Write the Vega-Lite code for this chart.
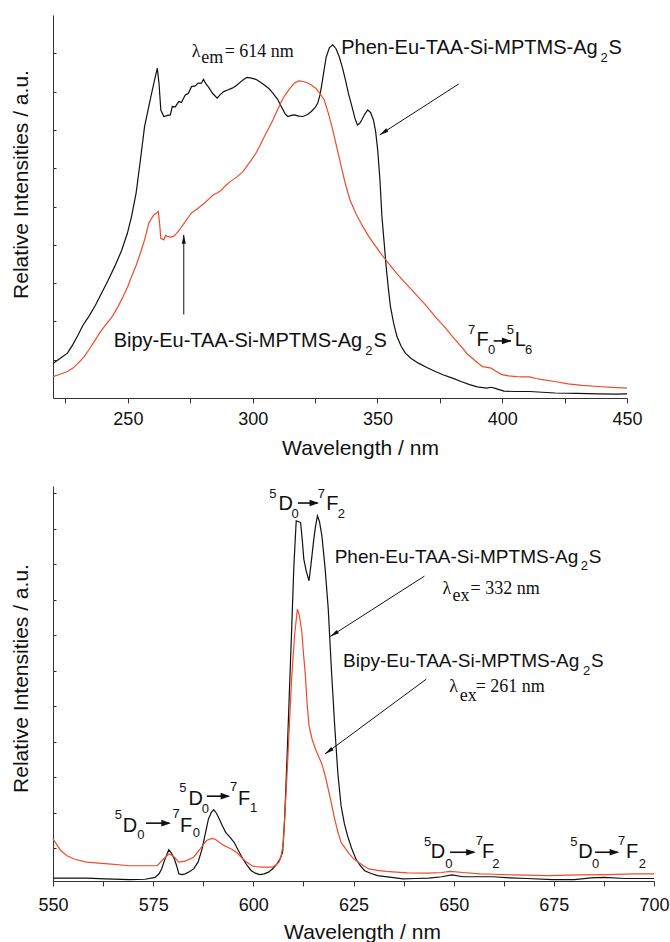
{
  "$schema": "https://vega.github.io/schema/vega-lite/v6.json",
  "background": "white",
  "padding": {"left": 10, "top": 15, "right": 2, "bottom": 0},
  "config": {
    "view": {"stroke": null},
    "font": "Liberation Sans",
    "axis": {
      "grid": false, "domainColor": "#333", "tickColor": "#333", "domainWidth": 1, "tickWidth": 1,
      "labelFont": "Liberation Sans", "labelFontSize": 18, "labelColor": "#111",
      "labelFlush": false, "labelOverlap": false,
      "titleFont": "Liberation Sans", "titleFontSize": 21, "titleFontWeight": "normal", "titleColor": "#111"
    },
    "concat": {"spacing": 28}
  },
  "datasets": {
    "excitation": [
      {"sample": "Phen", "wavelength": 220, "intensity": 0.90}, {"sample": "Phen", "wavelength": 222.5, "intensity": 1.02},
      {"sample": "Phen", "wavelength": 225.8, "intensity": 1.17}, {"sample": "Phen", "wavelength": 228, "intensity": 1.40},
      {"sample": "Phen", "wavelength": 230.1, "intensity": 1.65}, {"sample": "Phen", "wavelength": 232, "intensity": 1.90},
      {"sample": "Phen", "wavelength": 234.4, "intensity": 2.13}, {"sample": "Phen", "wavelength": 237, "intensity": 2.42},
      {"sample": "Phen", "wavelength": 239.5, "intensity": 2.74}, {"sample": "Phen", "wavelength": 242, "intensity": 3.06},
      {"sample": "Phen", "wavelength": 244.7, "intensity": 3.43}, {"sample": "Phen", "wavelength": 247.5, "intensity": 3.85},
      {"sample": "Phen", "wavelength": 249.8, "intensity": 4.30}, {"sample": "Phen", "wavelength": 251.5, "intensity": 4.75},
      {"sample": "Phen", "wavelength": 253.3, "intensity": 5.35}, {"sample": "Phen", "wavelength": 255, "intensity": 6.20},
      {"sample": "Phen", "wavelength": 256.7, "intensity": 7.09}, {"sample": "Phen", "wavelength": 258.5, "intensity": 7.65},
      {"sample": "Phen", "wavelength": 260.1, "intensity": 8.13}, {"sample": "Phen", "wavelength": 261.8, "intensity": 8.61},
      {"sample": "Phen", "wavelength": 262.5, "intensity": 8.20}, {"sample": "Phen", "wavelength": 263.2, "intensity": 7.52},
      {"sample": "Phen", "wavelength": 264.4, "intensity": 7.35}, {"sample": "Phen", "wavelength": 266, "intensity": 7.38},
      {"sample": "Phen", "wavelength": 267, "intensity": 7.39}, {"sample": "Phen", "wavelength": 267.8, "intensity": 7.61},
      {"sample": "Phen", "wavelength": 269, "intensity": 7.60}, {"sample": "Phen", "wavelength": 270.4, "intensity": 7.74},
      {"sample": "Phen", "wavelength": 271.5, "intensity": 7.72}, {"sample": "Phen", "wavelength": 273, "intensity": 7.91},
      {"sample": "Phen", "wavelength": 274.2, "intensity": 7.95}, {"sample": "Phen", "wavelength": 275.5, "intensity": 8.13},
      {"sample": "Phen", "wavelength": 277, "intensity": 8.15}, {"sample": "Phen", "wavelength": 278.1, "intensity": 8.22},
      {"sample": "Phen", "wavelength": 279.5, "intensity": 8.22}, {"sample": "Phen", "wavelength": 280.3, "intensity": 8.32},
      {"sample": "Phen", "wavelength": 281.3, "intensity": 8.20}, {"sample": "Phen", "wavelength": 282.4, "intensity": 8.11},
      {"sample": "Phen", "wavelength": 284, "intensity": 7.95}, {"sample": "Phen", "wavelength": 285.8, "intensity": 7.83},
      {"sample": "Phen", "wavelength": 287, "intensity": 7.92}, {"sample": "Phen", "wavelength": 288.4, "intensity": 8.00},
      {"sample": "Phen", "wavelength": 290, "intensity": 8.04}, {"sample": "Phen", "wavelength": 291.8, "intensity": 8.09},
      {"sample": "Phen", "wavelength": 293.5, "intensity": 8.16}, {"sample": "Phen", "wavelength": 295.3, "intensity": 8.26},
      {"sample": "Phen", "wavelength": 296.5, "intensity": 8.32}, {"sample": "Phen", "wavelength": 297.8, "intensity": 8.37},
      {"sample": "Phen", "wavelength": 299.5, "intensity": 8.35}, {"sample": "Phen", "wavelength": 301.3, "intensity": 8.32},
      {"sample": "Phen", "wavelength": 303, "intensity": 8.25}, {"sample": "Phen", "wavelength": 304.7, "intensity": 8.17},
      {"sample": "Phen", "wavelength": 306.5, "intensity": 8.08}, {"sample": "Phen", "wavelength": 308.1, "intensity": 7.96},
      {"sample": "Phen", "wavelength": 310, "intensity": 7.80}, {"sample": "Phen", "wavelength": 311.5, "intensity": 7.61},
      {"sample": "Phen", "wavelength": 313, "intensity": 7.42}, {"sample": "Phen", "wavelength": 314.1, "intensity": 7.35},
      {"sample": "Phen", "wavelength": 315.5, "intensity": 7.38}, {"sample": "Phen", "wavelength": 316.7, "intensity": 7.39},
      {"sample": "Phen", "wavelength": 318.5, "intensity": 7.36}, {"sample": "Phen", "wavelength": 320.1, "intensity": 7.35},
      {"sample": "Phen", "wavelength": 322, "intensity": 7.40}, {"sample": "Phen", "wavelength": 323.5, "intensity": 7.48},
      {"sample": "Phen", "wavelength": 325, "intensity": 7.58}, {"sample": "Phen", "wavelength": 326.1, "intensity": 7.70},
      {"sample": "Phen", "wavelength": 327, "intensity": 7.92}, {"sample": "Phen", "wavelength": 327.8, "intensity": 8.22},
      {"sample": "Phen", "wavelength": 328.7, "intensity": 8.60}, {"sample": "Phen", "wavelength": 329.5, "intensity": 8.91},
      {"sample": "Phen", "wavelength": 330.8, "intensity": 9.15}, {"sample": "Phen", "wavelength": 332.1, "intensity": 9.22},
      {"sample": "Phen", "wavelength": 333.4, "intensity": 9.12}, {"sample": "Phen", "wavelength": 334.7, "intensity": 8.91},
      {"sample": "Phen", "wavelength": 336, "intensity": 8.62}, {"sample": "Phen", "wavelength": 337.2, "intensity": 8.30},
      {"sample": "Phen", "wavelength": 338.5, "intensity": 7.92}, {"sample": "Phen", "wavelength": 339.8, "intensity": 7.61},
      {"sample": "Phen", "wavelength": 341, "intensity": 7.30}, {"sample": "Phen", "wavelength": 342, "intensity": 7.13},
      {"sample": "Phen", "wavelength": 343, "intensity": 7.18}, {"sample": "Phen", "wavelength": 343.7, "intensity": 7.26},
      {"sample": "Phen", "wavelength": 345, "intensity": 7.42}, {"sample": "Phen", "wavelength": 346.1, "intensity": 7.52},
      {"sample": "Phen", "wavelength": 347.3, "intensity": 7.45}, {"sample": "Phen", "wavelength": 348.4, "intensity": 7.26},
      {"sample": "Phen", "wavelength": 349.3, "intensity": 6.95}, {"sample": "Phen", "wavelength": 350.1, "intensity": 6.48},
      {"sample": "Phen", "wavelength": 351, "intensity": 5.70}, {"sample": "Phen", "wavelength": 351.8, "intensity": 4.74},
      {"sample": "Phen", "wavelength": 352.7, "intensity": 4.05}, {"sample": "Phen", "wavelength": 353.5, "intensity": 3.43},
      {"sample": "Phen", "wavelength": 354.4, "intensity": 2.85}, {"sample": "Phen", "wavelength": 355.2, "intensity": 2.39},
      {"sample": "Phen", "wavelength": 356.5, "intensity": 1.95}, {"sample": "Phen", "wavelength": 357.8, "intensity": 1.61},
      {"sample": "Phen", "wavelength": 359.5, "intensity": 1.35}, {"sample": "Phen", "wavelength": 361.2, "intensity": 1.17},
      {"sample": "Phen", "wavelength": 363.5, "intensity": 1.03}, {"sample": "Phen", "wavelength": 366.4, "intensity": 0.91},
      {"sample": "Phen", "wavelength": 370, "intensity": 0.79}, {"sample": "Phen", "wavelength": 373.2, "intensity": 0.69},
      {"sample": "Phen", "wavelength": 376.5, "intensity": 0.60}, {"sample": "Phen", "wavelength": 380.1, "intensity": 0.52},
      {"sample": "Phen", "wavelength": 383.5, "intensity": 0.43}, {"sample": "Phen", "wavelength": 386.9, "intensity": 0.35},
      {"sample": "Phen", "wavelength": 390, "intensity": 0.29}, {"sample": "Phen", "wavelength": 393.8, "intensity": 0.26},
      {"sample": "Phen", "wavelength": 395.5, "intensity": 0.28}, {"sample": "Phen", "wavelength": 397.2, "intensity": 0.25},
      {"sample": "Phen", "wavelength": 400.7, "intensity": 0.18}, {"sample": "Phen", "wavelength": 405, "intensity": 0.17},
      {"sample": "Phen", "wavelength": 411, "intensity": 0.17}, {"sample": "Phen", "wavelength": 416, "intensity": 0.15},
      {"sample": "Phen", "wavelength": 421.2, "intensity": 0.13}, {"sample": "Phen", "wavelength": 430, "intensity": 0.12},
      {"sample": "Phen", "wavelength": 438.4, "intensity": 0.11}, {"sample": "Phen", "wavelength": 445, "intensity": 0.10},
      {"sample": "Phen", "wavelength": 450, "intensity": 0.11},
      {"sample": "Bipy", "wavelength": 220, "intensity": 0.56}, {"sample": "Bipy", "wavelength": 222, "intensity": 0.60},
      {"sample": "Bipy", "wavelength": 225.8, "intensity": 0.69}, {"sample": "Bipy", "wavelength": 228, "intensity": 0.78},
      {"sample": "Bipy", "wavelength": 230.1, "intensity": 0.91}, {"sample": "Bipy", "wavelength": 232.3, "intensity": 1.06},
      {"sample": "Bipy", "wavelength": 234.4, "intensity": 1.26}, {"sample": "Bipy", "wavelength": 236.5, "intensity": 1.47},
      {"sample": "Bipy", "wavelength": 238.7, "intensity": 1.70}, {"sample": "Bipy", "wavelength": 241, "intensity": 1.90},
      {"sample": "Bipy", "wavelength": 243.8, "intensity": 2.13}, {"sample": "Bipy", "wavelength": 246, "intensity": 2.38},
      {"sample": "Bipy", "wavelength": 248.1, "intensity": 2.65}, {"sample": "Bipy", "wavelength": 250, "intensity": 2.92},
      {"sample": "Bipy", "wavelength": 251.5, "intensity": 3.17}, {"sample": "Bipy", "wavelength": 253.3, "intensity": 3.46},
      {"sample": "Bipy", "wavelength": 255, "intensity": 3.78}, {"sample": "Bipy", "wavelength": 256.8, "intensity": 4.15},
      {"sample": "Bipy", "wavelength": 258.4, "intensity": 4.57}, {"sample": "Bipy", "wavelength": 260.4, "intensity": 4.78},
      {"sample": "Bipy", "wavelength": 261.5, "intensity": 4.83}, {"sample": "Bipy", "wavelength": 262.2, "intensity": 4.87},
      {"sample": "Bipy", "wavelength": 262.8, "intensity": 4.50}, {"sample": "Bipy", "wavelength": 263.2, "intensity": 4.17},
      {"sample": "Bipy", "wavelength": 264.4, "intensity": 4.13}, {"sample": "Bipy", "wavelength": 265.2, "intensity": 4.25},
      {"sample": "Bipy", "wavelength": 265.8, "intensity": 4.22}, {"sample": "Bipy", "wavelength": 267, "intensity": 4.20},
      {"sample": "Bipy", "wavelength": 268.3, "intensity": 4.22}, {"sample": "Bipy", "wavelength": 269.5, "intensity": 4.30},
      {"sample": "Bipy", "wavelength": 270.8, "intensity": 4.40}, {"sample": "Bipy", "wavelength": 272.1, "intensity": 4.52},
      {"sample": "Bipy", "wavelength": 273.8, "intensity": 4.68}, {"sample": "Bipy", "wavelength": 275.5, "intensity": 4.83},
      {"sample": "Bipy", "wavelength": 278, "intensity": 4.95}, {"sample": "Bipy", "wavelength": 280.7, "intensity": 5.09},
      {"sample": "Bipy", "wavelength": 282.5, "intensity": 5.20}, {"sample": "Bipy", "wavelength": 284.1, "intensity": 5.30},
      {"sample": "Bipy", "wavelength": 286, "intensity": 5.36}, {"sample": "Bipy", "wavelength": 287.5, "intensity": 5.43},
      {"sample": "Bipy", "wavelength": 289.2, "intensity": 5.55}, {"sample": "Bipy", "wavelength": 291, "intensity": 5.65},
      {"sample": "Bipy", "wavelength": 293.5, "intensity": 5.76}, {"sample": "Bipy", "wavelength": 296.1, "intensity": 5.91},
      {"sample": "Bipy", "wavelength": 298.8, "intensity": 6.15}, {"sample": "Bipy", "wavelength": 301.3, "intensity": 6.39},
      {"sample": "Bipy", "wavelength": 303, "intensity": 6.60}, {"sample": "Bipy", "wavelength": 304.7, "intensity": 6.83},
      {"sample": "Bipy", "wavelength": 306.5, "intensity": 7.05}, {"sample": "Bipy", "wavelength": 308.1, "intensity": 7.26},
      {"sample": "Bipy", "wavelength": 309.8, "intensity": 7.50}, {"sample": "Bipy", "wavelength": 311.5, "intensity": 7.74},
      {"sample": "Bipy", "wavelength": 313.2, "intensity": 7.93}, {"sample": "Bipy", "wavelength": 315, "intensity": 8.09},
      {"sample": "Bipy", "wavelength": 316.7, "intensity": 8.22}, {"sample": "Bipy", "wavelength": 318.4, "intensity": 8.28},
      {"sample": "Bipy", "wavelength": 320, "intensity": 8.27}, {"sample": "Bipy", "wavelength": 321.8, "intensity": 8.23},
      {"sample": "Bipy", "wavelength": 323.5, "intensity": 8.17}, {"sample": "Bipy", "wavelength": 325.3, "intensity": 8.09},
      {"sample": "Bipy", "wavelength": 327, "intensity": 7.95}, {"sample": "Bipy", "wavelength": 328.7, "intensity": 7.78},
      {"sample": "Bipy", "wavelength": 330.4, "intensity": 7.42}, {"sample": "Bipy", "wavelength": 332.1, "intensity": 7.00},
      {"sample": "Bipy", "wavelength": 333.8, "intensity": 6.52}, {"sample": "Bipy", "wavelength": 335.5, "intensity": 6.04},
      {"sample": "Bipy", "wavelength": 337.2, "intensity": 5.58}, {"sample": "Bipy", "wavelength": 339, "intensity": 5.17},
      {"sample": "Bipy", "wavelength": 341.5, "intensity": 4.80}, {"sample": "Bipy", "wavelength": 344.1, "intensity": 4.48},
      {"sample": "Bipy", "wavelength": 346.7, "intensity": 4.20}, {"sample": "Bipy", "wavelength": 349.3, "intensity": 3.96},
      {"sample": "Bipy", "wavelength": 352, "intensity": 3.72}, {"sample": "Bipy", "wavelength": 354.4, "intensity": 3.52},
      {"sample": "Bipy", "wavelength": 357.8, "intensity": 3.25}, {"sample": "Bipy", "wavelength": 361.2, "intensity": 3.00},
      {"sample": "Bipy", "wavelength": 365.5, "intensity": 2.70}, {"sample": "Bipy", "wavelength": 369.8, "intensity": 2.39},
      {"sample": "Bipy", "wavelength": 373.2, "intensity": 2.12}, {"sample": "Bipy", "wavelength": 376.7, "intensity": 1.87},
      {"sample": "Bipy", "wavelength": 380.1, "intensity": 1.60}, {"sample": "Bipy", "wavelength": 383.5, "intensity": 1.35},
      {"sample": "Bipy", "wavelength": 386, "intensity": 1.15}, {"sample": "Bipy", "wavelength": 388.7, "intensity": 1.00},
      {"sample": "Bipy", "wavelength": 390.5, "intensity": 0.90}, {"sample": "Bipy", "wavelength": 392.1, "intensity": 0.82},
      {"sample": "Bipy", "wavelength": 394, "intensity": 0.80}, {"sample": "Bipy", "wavelength": 395.5, "intensity": 0.78},
      {"sample": "Bipy", "wavelength": 397.5, "intensity": 0.70}, {"sample": "Bipy", "wavelength": 399.8, "intensity": 0.61},
      {"sample": "Bipy", "wavelength": 402.5, "intensity": 0.58}, {"sample": "Bipy", "wavelength": 405.8, "intensity": 0.56},
      {"sample": "Bipy", "wavelength": 408.5, "intensity": 0.55}, {"sample": "Bipy", "wavelength": 411, "intensity": 0.55},
      {"sample": "Bipy", "wavelength": 413.5, "intensity": 0.51}, {"sample": "Bipy", "wavelength": 416.1, "intensity": 0.48},
      {"sample": "Bipy", "wavelength": 421, "intensity": 0.43}, {"sample": "Bipy", "wavelength": 426.4, "intensity": 0.37},
      {"sample": "Bipy", "wavelength": 432, "intensity": 0.33}, {"sample": "Bipy", "wavelength": 438.4, "intensity": 0.30},
      {"sample": "Bipy", "wavelength": 444, "intensity": 0.28}, {"sample": "Bipy", "wavelength": 450, "intensity": 0.26}
    ],
    "emission": [
      {"sample": "Phen", "wavelength": 550, "intensity": 0.15}, {"sample": "Phen", "wavelength": 555, "intensity": 0.15},
      {"sample": "Phen", "wavelength": 558.4, "intensity": 0.15}, {"sample": "Phen", "wavelength": 563, "intensity": 0.13},
      {"sample": "Phen", "wavelength": 569.1, "intensity": 0.11}, {"sample": "Phen", "wavelength": 573, "intensity": 0.12},
      {"sample": "Phen", "wavelength": 575.5, "intensity": 0.17}, {"sample": "Phen", "wavelength": 576.5, "intensity": 0.28},
      {"sample": "Phen", "wavelength": 577.1, "intensity": 0.41}, {"sample": "Phen", "wavelength": 578, "intensity": 0.70},
      {"sample": "Phen", "wavelength": 578.9, "intensity": 0.95}, {"sample": "Phen", "wavelength": 579.6, "intensity": 0.85},
      {"sample": "Phen", "wavelength": 580.3, "intensity": 0.69}, {"sample": "Phen", "wavelength": 581, "intensity": 0.45},
      {"sample": "Phen", "wavelength": 581.4, "intensity": 0.27}, {"sample": "Phen", "wavelength": 582.2, "intensity": 0.25},
      {"sample": "Phen", "wavelength": 583, "intensity": 0.27}, {"sample": "Phen", "wavelength": 584, "intensity": 0.33},
      {"sample": "Phen", "wavelength": 585.1, "intensity": 0.41}, {"sample": "Phen", "wavelength": 586.2, "intensity": 0.60},
      {"sample": "Phen", "wavelength": 587.2, "intensity": 0.97}, {"sample": "Phen", "wavelength": 588, "intensity": 1.40},
      {"sample": "Phen", "wavelength": 588.8, "intensity": 1.82}, {"sample": "Phen", "wavelength": 589.5, "intensity": 2.00},
      {"sample": "Phen", "wavelength": 590.1, "intensity": 2.08}, {"sample": "Phen", "wavelength": 590.8, "intensity": 1.98},
      {"sample": "Phen", "wavelength": 591.5, "intensity": 1.82}, {"sample": "Phen", "wavelength": 592.3, "intensity": 1.62},
      {"sample": "Phen", "wavelength": 593.1, "intensity": 1.44}, {"sample": "Phen", "wavelength": 594.2, "intensity": 1.30},
      {"sample": "Phen", "wavelength": 595.2, "intensity": 1.16}, {"sample": "Phen", "wavelength": 596.3, "intensity": 0.92},
      {"sample": "Phen", "wavelength": 597.4, "intensity": 0.69}, {"sample": "Phen", "wavelength": 598.5, "intensity": 0.50},
      {"sample": "Phen", "wavelength": 599.5, "intensity": 0.36}, {"sample": "Phen", "wavelength": 600.5, "intensity": 0.29},
      {"sample": "Phen", "wavelength": 601.6, "intensity": 0.25}, {"sample": "Phen", "wavelength": 602.7, "intensity": 0.27},
      {"sample": "Phen", "wavelength": 603.8, "intensity": 0.32}, {"sample": "Phen", "wavelength": 604.9, "intensity": 0.42},
      {"sample": "Phen", "wavelength": 605.9, "intensity": 0.55}, {"sample": "Phen", "wavelength": 606.7, "intensity": 0.70},
      {"sample": "Phen", "wavelength": 607.3, "intensity": 0.88}, {"sample": "Phen", "wavelength": 607.8, "intensity": 1.80},
      {"sample": "Phen", "wavelength": 608.4, "intensity": 3.51}, {"sample": "Phen", "wavelength": 609, "intensity": 5.40},
      {"sample": "Phen", "wavelength": 609.6, "intensity": 7.26}, {"sample": "Phen", "wavelength": 610.1, "intensity": 8.90},
      {"sample": "Phen", "wavelength": 610.7, "intensity": 10.22}, {"sample": "Phen", "wavelength": 611.2, "intensity": 10.20},
      {"sample": "Phen", "wavelength": 611.8, "intensity": 10.17}, {"sample": "Phen", "wavelength": 612.2, "intensity": 9.70},
      {"sample": "Phen", "wavelength": 612.6, "intensity": 9.14}, {"sample": "Phen", "wavelength": 613.2, "intensity": 8.80},
      {"sample": "Phen", "wavelength": 613.9, "intensity": 8.53}, {"sample": "Phen", "wavelength": 614.4, "intensity": 9.00},
      {"sample": "Phen", "wavelength": 615, "intensity": 9.61}, {"sample": "Phen", "wavelength": 615.5, "intensity": 10.05},
      {"sample": "Phen", "wavelength": 616, "intensity": 10.36}, {"sample": "Phen", "wavelength": 616.5, "intensity": 10.20},
      {"sample": "Phen", "wavelength": 617.1, "intensity": 9.80}, {"sample": "Phen", "wavelength": 617.9, "intensity": 8.90},
      {"sample": "Phen", "wavelength": 618.7, "intensity": 7.73}, {"sample": "Phen", "wavelength": 619.5, "intensity": 6.00},
      {"sample": "Phen", "wavelength": 620.3, "intensity": 4.45}, {"sample": "Phen", "wavelength": 621.1, "intensity": 3.10},
      {"sample": "Phen", "wavelength": 621.9, "intensity": 2.19}, {"sample": "Phen", "wavelength": 622.7, "intensity": 1.70},
      {"sample": "Phen", "wavelength": 623.5, "intensity": 1.35}, {"sample": "Phen", "wavelength": 624.5, "intensity": 1.00},
      {"sample": "Phen", "wavelength": 625.6, "intensity": 0.69}, {"sample": "Phen", "wavelength": 626.7, "intensity": 0.50},
      {"sample": "Phen", "wavelength": 627.8, "intensity": 0.36}, {"sample": "Phen", "wavelength": 629.4, "intensity": 0.28},
      {"sample": "Phen", "wavelength": 631, "intensity": 0.22}, {"sample": "Phen", "wavelength": 634, "intensity": 0.18},
      {"sample": "Phen", "wavelength": 637.4, "intensity": 0.13}, {"sample": "Phen", "wavelength": 640.5, "intensity": 0.14},
      {"sample": "Phen", "wavelength": 643.8, "intensity": 0.15}, {"sample": "Phen", "wavelength": 647, "intensity": 0.19},
      {"sample": "Phen", "wavelength": 649.6, "intensity": 0.24}, {"sample": "Phen", "wavelength": 652.3, "intensity": 0.19},
      {"sample": "Phen", "wavelength": 656, "intensity": 0.19}, {"sample": "Phen", "wavelength": 659.8, "intensity": 0.19},
      {"sample": "Phen", "wavelength": 664, "intensity": 0.16}, {"sample": "Phen", "wavelength": 668.3, "intensity": 0.14},
      {"sample": "Phen", "wavelength": 674.7, "intensity": 0.11}, {"sample": "Phen", "wavelength": 680.1, "intensity": 0.11},
      {"sample": "Phen", "wavelength": 684.3, "intensity": 0.16}, {"sample": "Phen", "wavelength": 687.5, "intensity": 0.17},
      {"sample": "Phen", "wavelength": 692.9, "intensity": 0.14}, {"sample": "Phen", "wavelength": 700, "intensity": 0.14},
      {"sample": "Bipy", "wavelength": 550, "intensity": 1.25}, {"sample": "Bipy", "wavelength": 552, "intensity": 0.92},
      {"sample": "Bipy", "wavelength": 553.5, "intensity": 0.78}, {"sample": "Bipy", "wavelength": 555.2, "intensity": 0.69},
      {"sample": "Bipy", "wavelength": 558.4, "intensity": 0.60}, {"sample": "Bipy", "wavelength": 563.8, "intensity": 0.55},
      {"sample": "Bipy", "wavelength": 569.1, "intensity": 0.50}, {"sample": "Bipy", "wavelength": 573, "intensity": 0.50},
      {"sample": "Bipy", "wavelength": 576, "intensity": 0.50}, {"sample": "Bipy", "wavelength": 577.6, "intensity": 0.69},
      {"sample": "Bipy", "wavelength": 578.9, "intensity": 0.83}, {"sample": "Bipy", "wavelength": 579.6, "intensity": 0.80},
      {"sample": "Bipy", "wavelength": 580.3, "intensity": 0.74}, {"sample": "Bipy", "wavelength": 581.4, "intensity": 0.60},
      {"sample": "Bipy", "wavelength": 583, "intensity": 0.63}, {"sample": "Bipy", "wavelength": 585.1, "intensity": 0.74},
      {"sample": "Bipy", "wavelength": 586.7, "intensity": 0.97}, {"sample": "Bipy", "wavelength": 588.3, "intensity": 1.21},
      {"sample": "Bipy", "wavelength": 589.7, "intensity": 1.27}, {"sample": "Bipy", "wavelength": 590.6, "intensity": 1.24},
      {"sample": "Bipy", "wavelength": 591.5, "intensity": 1.16}, {"sample": "Bipy", "wavelength": 592.5, "intensity": 1.08},
      {"sample": "Bipy", "wavelength": 593.6, "intensity": 1.02}, {"sample": "Bipy", "wavelength": 594.7, "intensity": 0.96},
      {"sample": "Bipy", "wavelength": 595.8, "intensity": 0.88}, {"sample": "Bipy", "wavelength": 596.8, "intensity": 0.76},
      {"sample": "Bipy", "wavelength": 597.9, "intensity": 0.64}, {"sample": "Bipy", "wavelength": 599, "intensity": 0.55},
      {"sample": "Bipy", "wavelength": 600, "intensity": 0.48}, {"sample": "Bipy", "wavelength": 602.2, "intensity": 0.46},
      {"sample": "Bipy", "wavelength": 604.8, "intensity": 0.46}, {"sample": "Bipy", "wavelength": 605.6, "intensity": 0.52},
      {"sample": "Bipy", "wavelength": 606.4, "intensity": 0.60}, {"sample": "Bipy", "wavelength": 607, "intensity": 0.80},
      {"sample": "Bipy", "wavelength": 607.5, "intensity": 1.16}, {"sample": "Bipy", "wavelength": 608, "intensity": 2.20},
      {"sample": "Bipy", "wavelength": 608.6, "intensity": 3.51}, {"sample": "Bipy", "wavelength": 609.1, "intensity": 4.70},
      {"sample": "Bipy", "wavelength": 609.6, "intensity": 5.85}, {"sample": "Bipy", "wavelength": 610.3, "intensity": 7.00},
      {"sample": "Bipy", "wavelength": 611, "intensity": 7.73}, {"sample": "Bipy", "wavelength": 611.5, "intensity": 7.55},
      {"sample": "Bipy", "wavelength": 612.1, "intensity": 7.08}, {"sample": "Bipy", "wavelength": 612.5, "intensity": 6.50},
      {"sample": "Bipy", "wavelength": 613, "intensity": 5.85}, {"sample": "Bipy", "wavelength": 613.4, "intensity": 5.10},
      {"sample": "Bipy", "wavelength": 613.9, "intensity": 4.45}, {"sample": "Bipy", "wavelength": 614.7, "intensity": 4.05},
      {"sample": "Bipy", "wavelength": 615.5, "intensity": 3.79}, {"sample": "Bipy", "wavelength": 616.3, "intensity": 3.58},
      {"sample": "Bipy", "wavelength": 617.1, "intensity": 3.37}, {"sample": "Bipy", "wavelength": 617.9, "intensity": 3.05},
      {"sample": "Bipy", "wavelength": 618.7, "intensity": 2.66}, {"sample": "Bipy", "wavelength": 619.5, "intensity": 2.25},
      {"sample": "Bipy", "wavelength": 620.3, "intensity": 1.82}, {"sample": "Bipy", "wavelength": 621.1, "intensity": 1.45},
      {"sample": "Bipy", "wavelength": 621.9, "intensity": 1.16}, {"sample": "Bipy", "wavelength": 623, "intensity": 0.98},
      {"sample": "Bipy", "wavelength": 624, "intensity": 0.83}, {"sample": "Bipy", "wavelength": 625, "intensity": 0.70},
      {"sample": "Bipy", "wavelength": 626.2, "intensity": 0.60}, {"sample": "Bipy", "wavelength": 627.5, "intensity": 0.50},
      {"sample": "Bipy", "wavelength": 628.8, "intensity": 0.41}, {"sample": "Bipy", "wavelength": 631, "intensity": 0.37},
      {"sample": "Bipy", "wavelength": 633.1, "intensity": 0.34}, {"sample": "Bipy", "wavelength": 638.4, "intensity": 0.30},
      {"sample": "Bipy", "wavelength": 643.8, "intensity": 0.29}, {"sample": "Bipy", "wavelength": 647, "intensity": 0.31},
      {"sample": "Bipy", "wavelength": 649.1, "intensity": 0.34}, {"sample": "Bipy", "wavelength": 652.3, "intensity": 0.31},
      {"sample": "Bipy", "wavelength": 656.6, "intensity": 0.27}, {"sample": "Bipy", "wavelength": 660, "intensity": 0.26},
      {"sample": "Bipy", "wavelength": 665.1, "intensity": 0.24}, {"sample": "Bipy", "wavelength": 673.7, "intensity": 0.22},
      {"sample": "Bipy", "wavelength": 681.1, "intensity": 0.24}, {"sample": "Bipy", "wavelength": 688.6, "intensity": 0.25},
      {"sample": "Bipy", "wavelength": 695, "intensity": 0.27}, {"sample": "Bipy", "wavelength": 700, "intensity": 0.27}
    ],
    "topText": [
      {"wavelength": 335.5, "intensity": 9.14, "t": "Phen-Eu-TAA-Si-MPTMS-Ag"}, {"wavelength": 442.6, "intensity": 9.14, "t": "S"},
      {"wavelength": 244.3, "intensity": 1.48, "t": "Bipy-Eu-TAA-Si-MPTMS-Ag"}, {"wavelength": 348.4, "intensity": 1.48, "t": "S"},
      {"wavelength": 389.7, "intensity": 1.52, "t": "F"}, {"wavelength": 405.0, "intensity": 1.52, "t": "L"}
    ],
    "topSmall": [
      {"wavelength": 440.8, "intensity": 8.88, "t": "2"}, {"wavelength": 346.6, "intensity": 1.22, "t": "2"},
      {"wavelength": 387.7, "intensity": 1.78, "t": "7"}, {"wavelength": 395.7, "intensity": 1.26, "t": "0"},
      {"wavelength": 403.3, "intensity": 1.78, "t": "5"}, {"wavelength": 410.6, "intensity": 1.26, "t": "6"}
    ],
    "topSerif": [
      {"wavelength": 275.6, "intensity": 9.04, "t": "λ"}, {"wavelength": 288.8, "intensity": 9.04, "t": "= 614 nm"}
    ],
    "topSerifSub": [
      {"wavelength": 279.4, "intensity": 8.87, "t": "em"}
    ],
    "topArrows": [
      {"wavelength": 382.6, "intensity": 8.20, "wavelength2": 350.9, "intensity2": 6.87},
      {"wavelength": 272.4, "intensity": 2.18, "wavelength2": 272.4, "intensity2": 4.26}
    ],
    "topLabelArrows": [
      {"wavelength": 396.6, "intensity": 1.49, "wavelength2": 403.5, "intensity2": 1.49}
    ],
    "topHeadDiag": [{"wavelength": 350.9, "intensity": 6.87}],
    "topHeadUp": [{"wavelength": 272.4, "intensity": 4.26}],
    "topHeadRight": [{"wavelength": 403.7, "intensity": 1.49}],
    "botText": [
      {"wavelength": 620.3, "intensity": 9.19, "t": "Phen-Eu-TAA-Si-MPTMS-Ag"}, {"wavelength": 683.7, "intensity": 9.19, "t": "S"},
      {"wavelength": 622.4, "intensity": 6.26, "t": "Bipy-Eu-TAA-Si-MPTMS-Ag"}, {"wavelength": 684.3, "intensity": 6.26, "t": "S"}
    ],
    "botLetters": [
      {"wavelength": 606.3, "intensity": 10.69, "t": "D"}, {"wavelength": 618.2, "intensity": 10.69, "t": "F"},
      {"wavelength": 583.8, "intensity": 2.38, "t": "D"}, {"wavelength": 596.2, "intensity": 2.38, "t": "F"},
      {"wavelength": 567.4, "intensity": 1.63, "t": "D"}, {"wavelength": 581.7, "intensity": 1.63, "t": "F"},
      {"wavelength": 644.3, "intensity": 0.88, "t": "D"}, {"wavelength": 657.1, "intensity": 0.88, "t": "F"},
      {"wavelength": 681.1, "intensity": 0.88, "t": "D"}, {"wavelength": 693.0, "intensity": 0.88, "t": "F"}
    ],
    "botSmall": [
      {"wavelength": 682.6, "intensity": 8.94, "t": "2"}, {"wavelength": 683.2, "intensity": 5.99, "t": "2"},
      {"wavelength": 604.9, "intensity": 10.97, "t": "5"}, {"wavelength": 610.4, "intensity": 10.41, "t": "0"},
      {"wavelength": 617.0, "intensity": 10.97, "t": "7"}, {"wavelength": 622.0, "intensity": 10.41, "t": "2"},
      {"wavelength": 582.4, "intensity": 2.68, "t": "5"}, {"wavelength": 588.0, "intensity": 2.10, "t": "0"},
      {"wavelength": 595.1, "intensity": 2.72, "t": "7"}, {"wavelength": 600.1, "intensity": 2.12, "t": "1"},
      {"wavelength": 566.3, "intensity": 1.93, "t": "5"}, {"wavelength": 571.9, "intensity": 1.37, "t": "0"},
      {"wavelength": 580.7, "intensity": 1.96, "t": "7"}, {"wavelength": 585.8, "intensity": 1.42, "t": "0"},
      {"wavelength": 643.5, "intensity": 1.16, "t": "5"}, {"wavelength": 648.8, "intensity": 0.56, "t": "0"},
      {"wavelength": 656.4, "intensity": 1.21, "t": "7"}, {"wavelength": 660.5, "intensity": 0.55, "t": "2"},
      {"wavelength": 680.0, "intensity": 1.16, "t": "5"}, {"wavelength": 685.4, "intensity": 0.56, "t": "0"},
      {"wavelength": 691.9, "intensity": 1.21, "t": "7"}, {"wavelength": 697.1, "intensity": 0.55, "t": "2"}
    ],
    "botSerif": [
      {"wavelength": 647.2, "intensity": 8.30, "t": "λ"}, {"wavelength": 654.2, "intensity": 8.30, "t": "= 332 nm"},
      {"wavelength": 648.9, "intensity": 5.53, "t": "λ"}, {"wavelength": 655.5, "intensity": 5.53, "t": "= 261 nm"}
    ],
    "botSerifSub": [
      {"wavelength": 649.7, "intensity": 8.10, "t": "ex"}, {"wavelength": 651.5, "intensity": 5.29, "t": "ex"}
    ],
    "botArrows": [
      {"wavelength": 642.7, "intensity": 8.66, "wavelength2": 619.2, "intensity2": 6.96},
      {"wavelength": 643.2, "intensity": 5.76, "wavelength2": 617.9, "intensity2": 3.65}
    ],
    "botLabelArrows": [
      {"wavelength": 611.1, "intensity": 10.72, "wavelength2": 616.0, "intensity2": 10.72},
      {"wavelength": 588.4, "intensity": 2.46, "wavelength2": 593.8, "intensity2": 2.46},
      {"wavelength": 573.2, "intensity": 1.70, "wavelength2": 579.0, "intensity2": 1.70},
      {"wavelength": 649.1, "intensity": 0.88, "wavelength2": 655.1, "intensity2": 0.88},
      {"wavelength": 685.3, "intensity": 0.88, "wavelength2": 690.9, "intensity2": 0.88}
    ],
    "botHeadA": [{"wavelength": 619.2, "intensity": 6.96}],
    "botHeadB": [{"wavelength": 617.9, "intensity": 3.65}],
    "botHeadRight": [
      {"wavelength": 616.4, "intensity": 10.72}, {"wavelength": 594.2, "intensity": 2.46},
      {"wavelength": 579.4, "intensity": 1.70}, {"wavelength": 655.5, "intensity": 0.88},
      {"wavelength": 691.3, "intensity": 0.88}
    ]
  },
  "vconcat": [
    {
      "width": 574,
      "height": 383,
      "encoding": {
        "x": {"field": "wavelength", "type": "quantitative",
          "scale": {"domain": [220, 450], "nice": false, "zero": false},
          "axis": {"title": "Wavelength / nm", "values": [225, 250, 275, 300, 325, 350, 375, 400, 425, 450],
            "labelExpr": "datum.value % 50 === 0 ? datum.label : ''", "tickSize": 5, "labelPadding": 7, "titlePadding": 9, "titleX": 307}},
        "y": {"field": "intensity", "type": "quantitative",
          "scale": {"domain": [0, 10], "nice": false, "zero": false},
          "axis": {"title": "Relative Intensities / a.u.", "values": [1, 2, 3, 4, 5, 6, 7, 8, 9], "labels": false, "tickSize": -3, "titlePadding": 21, "titleY": 169}}
      },
      "layer": [
        {"data": {"name": "excitation"}, "mark": {"type": "line", "strokeWidth": 1.2},
          "encoding": {"color": {"field": "sample", "type": "nominal", "scale": {"domain": ["Phen", "Bipy"], "range": ["#111111", "#ee4b2b"]}, "legend": null}}},
        {"data": {"name": "topArrows"}, "mark": {"type": "rule", "color": "#111", "strokeWidth": 1},
          "encoding": {"x2": {"field": "wavelength2"}, "y2": {"field": "intensity2"}}},
        {"data": {"name": "topLabelArrows"}, "mark": {"type": "rule", "color": "#111", "strokeWidth": 1.6},
          "encoding": {"x2": {"field": "wavelength2"}, "y2": {"field": "intensity2"}}},
        {"data": {"name": "topHeadDiag"}, "mark": {"type": "point", "shape": "M0,0L0.45,2L-0.45,2Z", "filled": true, "color": "#111", "opacity": 1, "size": 81, "angle": 237}},
        {"data": {"name": "topHeadUp"}, "mark": {"type": "point", "shape": "M0,0L0.45,2L-0.45,2Z", "filled": true, "color": "#111", "opacity": 1, "size": 81, "angle": 0}},
        {"data": {"name": "topHeadRight"}, "mark": {"type": "point", "shape": "M0,0L0.7,2L-0.7,2Z", "filled": true, "color": "#111", "opacity": 1, "size": 90, "angle": 90}},
        {"data": {"name": "topText"}, "mark": {"type": "text", "align": "left", "baseline": "middle", "font": "Liberation Sans", "fontSize": 20, "color": "#111"},
          "encoding": {"text": {"field": "t"}}},
        {"data": {"name": "topSmall"}, "mark": {"type": "text", "align": "center", "baseline": "middle", "font": "Liberation Sans", "fontSize": 13, "color": "#111"},
          "encoding": {"text": {"field": "t"}}},
        {"data": {"name": "topSerif"}, "mark": {"type": "text", "align": "left", "baseline": "middle", "font": "Liberation Serif", "fontSize": 18, "color": "#111"},
          "encoding": {"text": {"field": "t"}}},
        {"data": {"name": "topSerifSub"}, "mark": {"type": "text", "align": "left", "baseline": "middle", "font": "Liberation Serif", "fontSize": 18, "color": "#111"},
          "encoding": {"text": {"field": "t"}}}
      ]
    },
    {
      "width": 601,
      "height": 395,
      "encoding": {
        "x": {"field": "wavelength", "type": "quantitative",
          "scale": {"domain": [550, 700], "nice": false, "zero": false},
          "axis": {"title": "Wavelength / nm", "values": [550, 562.5, 575, 587.5, 600, 612.5, 625, 637.5, 650, 662.5, 675, 687.5, 700],
            "labelExpr": "datum.value % 25 === 0 ? datum.label : ''", "tickSize": 5, "labelPadding": 10, "titlePadding": 7, "titleX": 309}},
        "y": {"field": "intensity", "type": "quantitative",
          "scale": {"domain": [0.07, 11.2], "nice": false, "zero": false},
          "axis": {"title": "Relative Intensities / a.u.", "values": [1, 2, 3, 4, 5, 6, 7, 8, 9, 10, 11], "labels": false, "tickSize": -3, "titlePadding": 21, "titleY": 192}}
      },
      "layer": [
        {"data": {"name": "emission"}, "mark": {"type": "line", "strokeWidth": 1.2},
          "encoding": {"color": {"field": "sample", "type": "nominal", "scale": {"domain": ["Phen", "Bipy"], "range": ["#111111", "#ee4b2b"]}, "legend": null}}},
        {"data": {"name": "botArrows"}, "mark": {"type": "rule", "color": "#111", "strokeWidth": 1},
          "encoding": {"x2": {"field": "wavelength2"}, "y2": {"field": "intensity2"}}},
        {"data": {"name": "botLabelArrows"}, "mark": {"type": "rule", "color": "#111", "strokeWidth": 1.6},
          "encoding": {"x2": {"field": "wavelength2"}, "y2": {"field": "intensity2"}}},
        {"data": {"name": "botHeadA"}, "mark": {"type": "point", "shape": "M0,0L0.45,2L-0.45,2Z", "filled": true, "color": "#111", "opacity": 1, "size": 81, "angle": 237}},
        {"data": {"name": "botHeadB"}, "mark": {"type": "point", "shape": "M0,0L0.45,2L-0.45,2Z", "filled": true, "color": "#111", "opacity": 1, "size": 81, "angle": 234}},
        {"data": {"name": "botHeadRight"}, "mark": {"type": "point", "shape": "M0,0L0.7,2L-0.7,2Z", "filled": true, "color": "#111", "opacity": 1, "size": 90, "angle": 90}},
        {"data": {"name": "botText"}, "mark": {"type": "text", "align": "left", "baseline": "middle", "font": "Liberation Sans", "fontSize": 19, "color": "#111"},
          "encoding": {"text": {"field": "t"}}},
        {"data": {"name": "botLetters"}, "mark": {"type": "text", "align": "left", "baseline": "middle", "font": "Liberation Sans", "fontSize": 20, "color": "#111"},
          "encoding": {"text": {"field": "t"}}},
        {"data": {"name": "botSmall"}, "mark": {"type": "text", "align": "center", "baseline": "middle", "font": "Liberation Sans", "fontSize": 13, "color": "#111"},
          "encoding": {"text": {"field": "t"}}},
        {"data": {"name": "botSerif"}, "mark": {"type": "text", "align": "left", "baseline": "middle", "font": "Liberation Serif", "fontSize": 18, "color": "#111"},
          "encoding": {"text": {"field": "t"}}},
        {"data": {"name": "botSerifSub"}, "mark": {"type": "text", "align": "left", "baseline": "middle", "font": "Liberation Serif", "fontSize": 18, "color": "#111"},
          "encoding": {"text": {"field": "t"}}}
      ]
    }
  ]
}
